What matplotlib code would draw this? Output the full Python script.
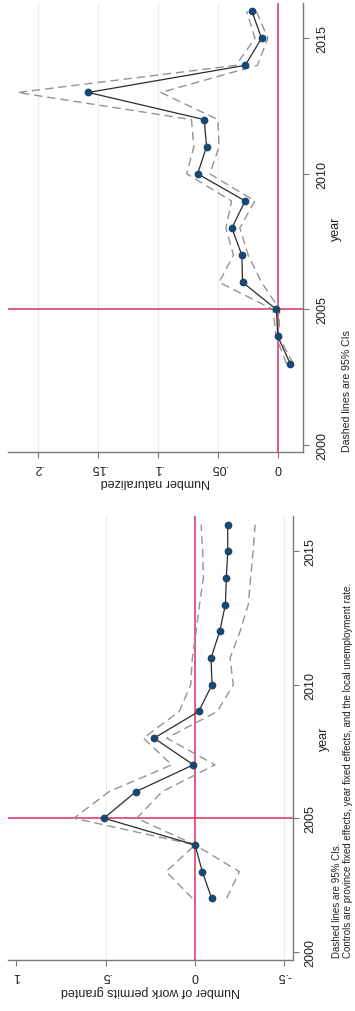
import matplotlib
matplotlib.use("Agg")
import matplotlib.pyplot as plt

plt.rcParams['font.family'] = ['Liberation Sans', 'DejaVu Sans']

# event-study coefficients, naturalizations (2004 omitted)
nat_years = list(range(2003, 2017))
nat_coef = [-0.0103, 0.0, 0.0012, 0.0294, 0.030, 0.0383, 0.0273, 0.0669, 0.0594, 0.0614, 0.158, 0.0272, 0.0136, 0.0216]
nat_hi = [-0.0072, 0.0015, 0.004, 0.049, 0.037, 0.0433, 0.0386, 0.076, 0.070, 0.072, 0.217, 0.035, 0.019, 0.026]
nat_lo = [-0.0128, -0.001, -0.0015, 0.0136, 0.0247, 0.0317, 0.0192, 0.0567, 0.049, 0.050, 0.0975, 0.017, 0.0083, 0.018]

# event-study coefficients, work permits (2004 omitted)
permit_years = list(range(2002, 2017))
permit_coef = [-0.093, -0.041, 0.0, 0.509, 0.330, 0.0093, 0.229, -0.0207, -0.095, -0.0895, -0.138, -0.170, -0.175, -0.183, -0.183]
permit_hi = [0.015, 0.162, 0.0, 0.677, 0.48, 0.130, 0.289, 0.088, 0.024, 0.015, -0.006, -0.025, -0.047, -0.043, -0.034]
permit_lo = [-0.177, -0.248, 0.0, 0.326, 0.183, -0.112, 0.158, -0.125, -0.214, -0.196, -0.252, -0.298, -0.311, -0.325, -0.336]

year_ticks = [2000, 2005, 2010, 2015]
nat_ticks = [0, 0.05, 0.1, 0.15, 0.2]
nat_ticklabels = ['0', '.05', '.1', '.15', '.2']
permit_ticks = [-0.5, 0, 0.5, 1]
permit_ticklabels = ['-.5', '0', '.5', '1']

NAVY = '#1a476f'
RED = '#d8325c'
GRID = '#e6f0f1'
AXIS = '#7a7a7a'
TXT = '#222222'

fig = plt.figure(figsize=(3.55, 10.12), dpi=100)
W, H = 355.0, 1012.0


def panel(x0, x1, y0, y1):
    return fig.add_axes([x0 / W, 1 - y1 / H, (x1 - x0) / W, (y1 - y0) / H])


def draw(ax, years, coef, lo, hi, ticks, ticklabels, grid, xlim, ylim, xlabel,
         xpad, ypad, xlabpad, ylabpad):
    for g in grid:
        ax.axvline(g, color=GRID, lw=0.9, zorder=0)
    ax.axvline(0, color=RED, lw=1.1, zorder=1)
    ax.axhline(2005, color=RED, lw=1.1, zorder=1)
    ax.plot(hi, years, color='#939393', lw=1.0, ls=(0, (6, 3.5)), zorder=2)
    ax.plot(lo, years, color='#939393', lw=1.0, ls=(0, (6, 3.5)), zorder=2)
    ax.plot(coef, years, color='#2b2b2b', lw=0.9, zorder=3)
    ax.plot(coef, years, 'o', color=NAVY, ms=5.6, mew=0, zorder=4)

    ax.set_xlim(*xlim)
    ax.set_ylim(*ylim)
    for s in ['top', 'left']:
        ax.spines[s].set_visible(False)
    for s in ['bottom', 'right']:
        ax.spines[s].set_color(AXIS)
        ax.spines[s].set_linewidth(1.0)
    ax.set_xticks(ticks)
    ax.set_xticklabels(ticklabels)
    ax.set_yticks(year_ticks)
    ax.yaxis.tick_right()
    ax.tick_params(axis='x', labelrotation=180, length=4, width=0.8, color=AXIS,
                   labelsize=9, labelcolor=TXT, pad=xpad)
    ax.tick_params(axis='y', labelrotation=90, length=4, width=0.8, color=AXIS,
                   labelsize=9, labelcolor=TXT, pad=ypad)
    for lab in ax.get_yticklabels():
        lab.set_verticalalignment('center')
    ax.set_xlabel(xlabel, rotation=180, fontsize=9, color=TXT, labelpad=xlabpad)
    ax.yaxis.set_label_position('right')
    ax.set_ylabel('year', rotation=90, fontsize=9, color=TXT, labelpad=ylabpad)


# top: naturalizations
ax1 = panel(8, 303, 4, 453)
draw(ax1, nat_years, nat_coef, nat_lo, nat_hi, nat_ticks, nat_ticklabels,
     [0.05, 0.1, 0.15, 0.2], (0.225, -0.021), (1999.74, 2016.3),
     'Number naturalized', 2.5, 5.5, 1.5, 1.5)

# bottom: work permits
ax2 = panel(8, 293, 517, 961)
draw(ax2, permit_years, permit_coef, permit_lo, permit_hi, permit_ticks, permit_ticklabels,
     [0.5, -0.5], (1.046, -0.548), (1999.69, 2016.32),
     'Number of work permits granted', 2.5, 4.5, 2.0, 0.5)

fig.text(347.5 / W, 1 - 452 / H, 'Dashed lines are 95% CIs', rotation=90,
         rotation_mode='anchor', ha='left', va='center', fontsize=7.6, color=TXT)
fig.text(336.5 / W, 1 - 958 / H, 'Dashed lines are 95% CIs.', rotation=90,
         rotation_mode='anchor', ha='left', va='center', fontsize=7.0, color=TXT)
fig.text(348 / W, 1 - 958 / H,
         'Controls are province fixed effects, year fixed effects, and the local unemployment rate.',
         rotation=90, rotation_mode='anchor', ha='left', va='center', fontsize=7.0, color=TXT)

fig.savefig('out.png', dpi=100, facecolor='white')
